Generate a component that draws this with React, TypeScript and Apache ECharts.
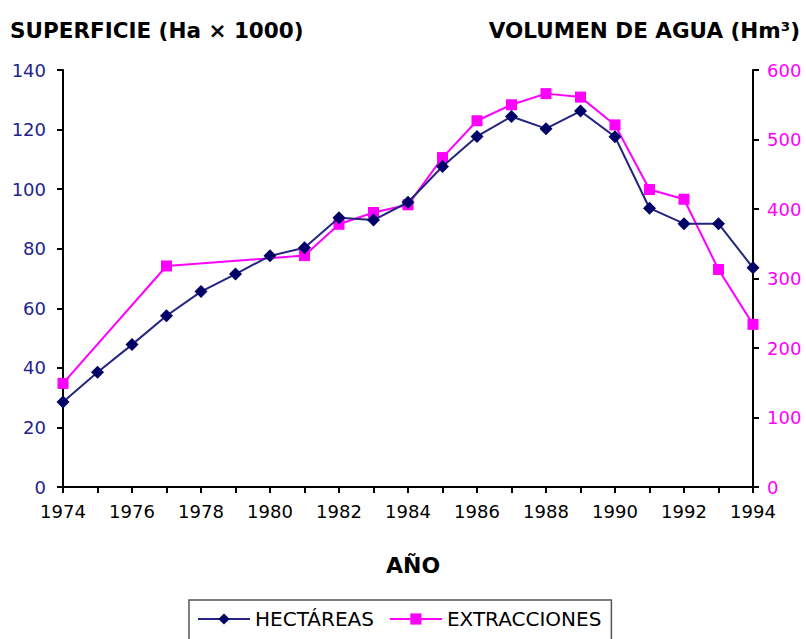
import React, { useEffect, useRef } from "react";
import * as echarts from "echarts";

const years = ["1974","1975","1976","1977","1978","1979","1980","1981","1982","1983","1984","1985","1986","1987","1988","1989","1990","1991","1992","1993","1994"];
const hectareas = [28.5, 38.5, 47.8, 57.5, 65.6, 71.5, 77.6, 80.3, 90.4, 89.6, 95.6, 107.6, 117.7, 124.4, 120.3, 126.2, 117.6, 93.6, 88.4, 88.4, 73.6];
const extracciones: (number | null)[] = [149, null, null, 318, null, null, null, 333, 378, 395, 406, 474, 527, 550, 566, 561, 521, 428, 414, 313, 234];
const leftTitle = "SUPERFICIE (Ha × 1000)";
const rightTitle = "VOLUMEN DE AGUA (Hm³)";
const xTitle = "AÑO";
const seriesNames = ["HECTÁREAS", "EXTRACCIONES"];

const NAVY = "#000066";
const NAVY_LINE = "#25257f";
const NAVY_TEXT = "#23238c";
const MAGENTA = "#ff00ff";
const FONT = "DejaVu Sans";

export default function App() {
  const ref = useRef<HTMLDivElement>(null);
  useEffect(() => {
    if (!ref.current) return;
    const chart = echarts.init(ref.current, null, { renderer: "svg" });
    chart.setOption({
      animation: false,
      backgroundColor: "#ffffff",
      title: [
        { text: leftTitle, left: 10, top: 19, padding: 0, textStyle: { fontFamily: FONT, fontSize: 21.5, fontWeight: "bold", color: "#000" } },
        { text: rightTitle, right: 6, top: 19, padding: 0, textStyle: { fontFamily: FONT, fontSize: 21.5, fontWeight: "bold", color: "#000" } },
        { text: xTitle, left: 408, textAlign: "center", top: 549, textStyle: { fontFamily: FONT, fontSize: 22, fontWeight: "bold", color: "#000" } },
      ],
      legend: {
        left: 189,
        top: 600,
        padding: [9, 10, 14, 8],
        borderColor: "#555",
        borderWidth: 1.5,
        itemWidth: 52,
        itemHeight: 14,
        itemGap: 15,
        textStyle: { fontFamily: FONT, fontSize: 20, color: "#000" },
        data: seriesNames,
      },
      grid: { left: 63, right: 53, top: 70, bottom: 152, containLabel: false },
      xAxis: {
        type: "category",
        data: years,
        boundaryGap: false,
        axisLine: { lineStyle: { color: "#000", width: 2 } },
        axisTick: { interval: 0, length: 6, lineStyle: { color: "#000", width: 2 } },
        axisLabel: { interval: 1, margin: 15, fontFamily: FONT, fontSize: 18, color: "#000" },
        splitLine: { show: false },
      },
      yAxis: [
        {
          type: "value",
          min: 0,
          max: 140,
          interval: 20,
          position: "left",
          axisLine: { show: true, lineStyle: { color: "#000", width: 2 } },
          axisTick: { show: true, length: 6, lineStyle: { color: "#000", width: 2 } },
          axisLabel: { margin: 17, fontFamily: FONT, fontSize: 18, color: NAVY_TEXT },
          splitLine: { show: false },
        },
        {
          type: "value",
          min: 0,
          max: 600,
          interval: 100,
          position: "right",
          axisLine: { show: true, lineStyle: { color: "#000", width: 2 } },
          axisTick: { show: true, length: 6, lineStyle: { color: "#000", width: 2 } },
          axisLabel: { margin: 14, fontFamily: FONT, fontSize: 18, color: MAGENTA },
          splitLine: { show: false },
        },
      ],
      series: [
        {
          name: seriesNames[0],
          type: "line",
          yAxisIndex: 0,
          data: hectareas,
          symbol: "diamond",
          symbolSize: 13,
          lineStyle: { color: NAVY_LINE, width: 2 },
          itemStyle: { color: NAVY },
          z: 3,
        },
        {
          name: seriesNames[1],
          type: "line",
          yAxisIndex: 1,
          data: extracciones,
          connectNulls: true,
          symbol: "rect",
          symbolSize: 11,
          lineStyle: { color: MAGENTA, width: 2 },
          itemStyle: { color: MAGENTA },
          z: 2,
        },
      ],
    });
    return () => chart.dispose();
  }, []);
  return <div ref={ref} style={{ width: 806, height: 639, position: "absolute", left: 0, top: 0 }} />;
}
